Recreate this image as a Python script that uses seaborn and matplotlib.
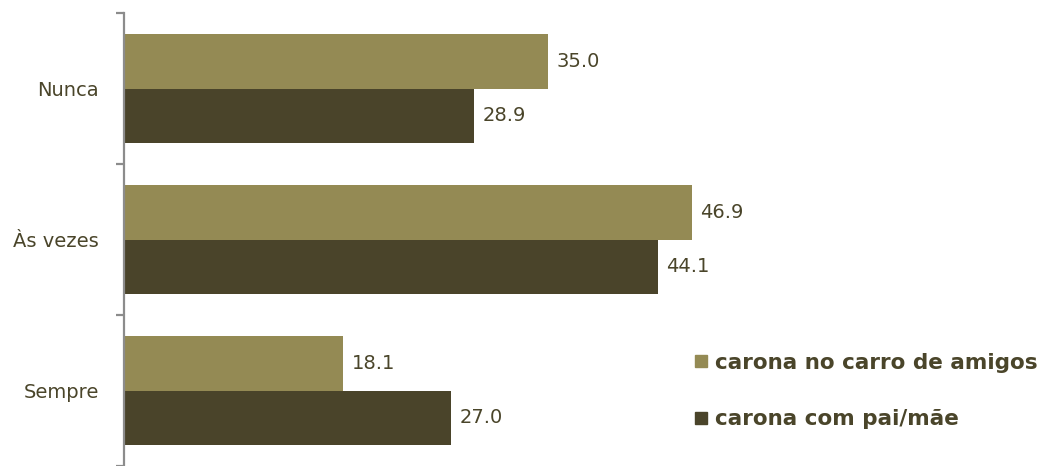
import pandas as pd
import matplotlib
matplotlib.use('Agg')
from matplotlib import pyplot as plt
from matplotlib.lines import Line2D
import seaborn as sns

# dados
categorias = ['Nunca', 'Às vezes', 'Sempre']
series = ['carona no carro de amigos', 'carona com pai/mãe']
amigos = [35.0, 46.9, 18.1]
pai_mae = [28.9, 44.1, 27.0]
cores = ['#948A54', '#4A442A']
cor_texto = '#4A452A'

df = pd.DataFrame({
    'categoria': categorias * 2,
    'serie': [series[0]] * 3 + [series[1]] * 3,
    'valor': amigos + pai_mae,
})

sns.set_style('white')
plt.rcParams['font.family'] = ['DejaVu Sans']

fig = plt.figure(figsize=(10.46, 4.66), dpi=100)
ax = fig.add_axes([124 / 1046, 0 / 466, 922 / 1046, 453 / 466])

sns.barplot(data=df, y='categoria', x='valor', hue='serie', orient='h',
            palette=cores, width=0.72, ax=ax, legend=False, saturation=1,
            linewidth=0)

ax.set_xlim(0, 922 / 12.11)
ax.set_ylim(2.5, -0.5)
ax.set_xlabel('')
ax.set_ylabel('')
ax.set_xticks([])

for c in ax.containers:
    ax.bar_label(c, fmt='%.1f', padding=6, fontsize=14, color=cor_texto)

# eixo vertical com marcas entre as categorias
for s in ['top', 'right', 'bottom']:
    ax.spines[s].set_visible(False)
ax.spines['left'].set_color('#8C8C8C')
ax.spines['left'].set_linewidth(1.6)
ax.set_yticks([-0.5, 0.5, 1.5, 2.5], minor=False)
ax.set_yticklabels([])
ax.set_yticks([0, 1, 2], minor=True)
ax.set_yticklabels(categorias, minor=True, fontsize=14, color=cor_texto)
ax.tick_params(axis='y', which='major', length=6, width=1.6, color='#8C8C8C', left=True)
ax.tick_params(axis='y', which='minor', length=0, pad=18)

handles = [Line2D([], [], marker='s', linestyle='', markersize=9,
                  markerfacecolor=cores[i], markeredgecolor=cores[i]) for i in range(2)]
leg = fig.legend(handles, series, loc='center left', bbox_to_anchor=(692 / 1046, 1 - 391 / 466),
                 frameon=False, handletextpad=0.25, labelspacing=1.7, borderpad=0,
                 borderaxespad=0, prop={'weight': 'bold', 'size': 15.5}, handlelength=0.8)
for t in leg.get_texts():
    t.set_color(cor_texto)

plt.savefig('out.png', dpi=100)
